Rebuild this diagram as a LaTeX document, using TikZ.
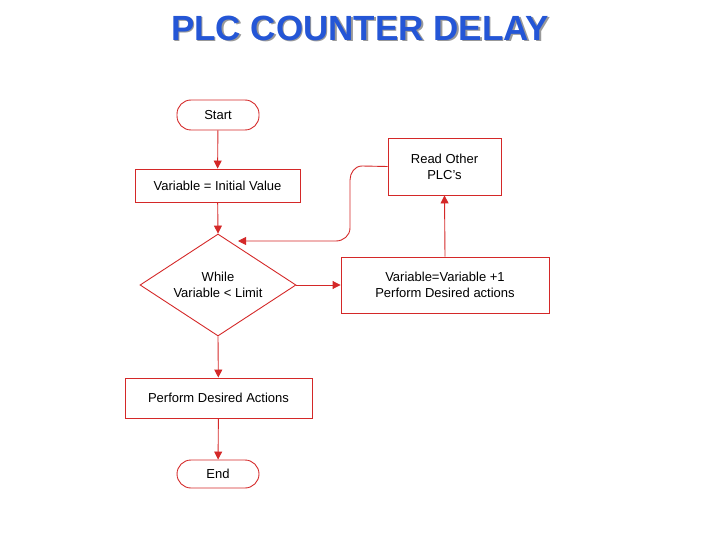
\documentclass[tikz,border=0pt]{standalone}
\usepackage{fontspec}
\setmainfont{Liberation Sans}
\usetikzlibrary{shapes.geometric,arrows.meta}
\definecolor{ln}{HTML}{D42828}
\definecolor{tt}{HTML}{2456D6}
\begin{document}
\begin{tikzpicture}[x=1pt,y=-1pt,line width=0.9pt,
  box/.style={draw=ln,fill=white,minimum width=#1,inner sep=0pt,font=\fontsize{13}{16}\selectfont,align=center},
  term/.style={draw=ln,rounded corners=14pt,minimum width=82pt,minimum height=30pt,font=\fontsize{13}{16}\selectfont},
  arr/.style={draw=ln,-{Triangle[length=8pt,width=8pt]}}]
\useasboundingbox (0,0) rectangle (720,540);
\node[font=\fontsize{35}{38}\bfseries\selectfont,text=black!40] at (361.5,29.5) {PLC COUNTER DELAY};
\node[font=\fontsize{35}{38}\bfseries\selectfont,text=tt] (title) at (360,28) {PLC COUNTER DELAY};
\node[term] (start) at (218,115) {Start};
\node[box=165pt,minimum height=33pt] (init) at (217.5,185.5) {Variable = Initial Value};
\node[draw=ln,diamond,minimum width=156pt,minimum height=102pt,inner sep=-9pt,align=center,font=\fontsize{13}{16}\selectfont] (dec) at (218,285) {While\\Variable < Limit};
\node[box=187pt,minimum height=40pt] (perf) at (218.5,398) {Perform Desired Actions};
\node[term,minimum height=28pt] (end) at (218,474) {End};
\node[box=113pt,minimum height=57pt] (read) at (444.5,166.5) {Read Other\\PLC's};
\node[box=208pt,minimum height=56pt] (inc) at (445,285) {Variable=Variable +1\\Perform Desired actions};
\coordinate (ret) at (238,241);
\draw[arr] (start) -- (init);
\draw[arr] (init) -- (dec.north);
\draw[arr] (dec.south) -- (perf);
\draw[arr] (perf) -- (end);
\draw[arr] (dec.east) -- (inc.west);
\draw[arr] (inc.north) -- (read.south);
\draw[arr] (read.west) -- (362,166) to[out=180,in=90] (350,180) -- (350,228) to[out=270,in=0] (336,241) -- (ret);
\end{tikzpicture}
\end{document}
